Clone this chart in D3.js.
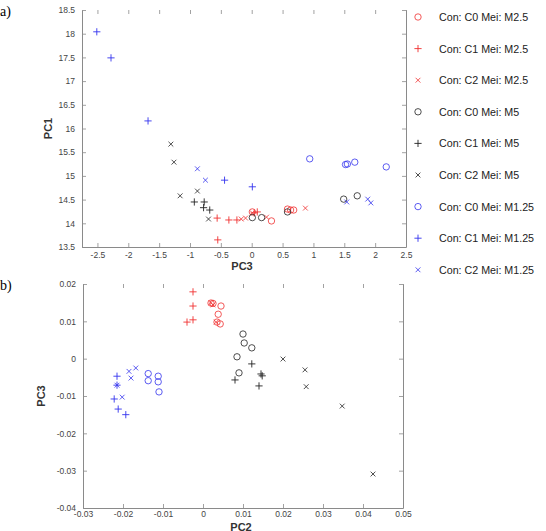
<!DOCTYPE html>
<html>
<head>
<meta charset="utf-8">
<script src="https://cdn.jsdelivr.net/npm/d3@7"></script>
<style>
  body { margin: 0; background: #fff; overflow: hidden; }
  svg { display: block; font-family: "Liberation Sans", Arial, sans-serif; }
</style>
</head>
<body>
<div id="main"></div>
<script>
const W = 546, H = 531;

// legend entries, in order
const seriesNames = [
  "Con: C0 Mei: M2.5", "Con: C1 Mei: M2.5", "Con: C2 Mei: M2.5",
  "Con: C0 Mei: M5",   "Con: C1 Mei: M5",   "Con: C2 Mei: M5",
  "Con: C0 Mei: M1.25","Con: C1 Mei: M1.25","Con: C2 Mei: M1.25"
];
const seriesColor = ["#f03030", "#f03030", "#f03030", "#222", "#222", "#222", "#3333ee", "#3333ee", "#3333ee"];
const seriesMarker = ["o", "+", "x", "o", "+", "x", "o", "+", "x"];

// panel a) : [PC3, PC1]
const a_C0_M25 = [[0.32, 14.05], [0.58, 14.30], [0.63, 14.28], [0.68, 14.28], [0.01, 14.24]];
const a_C1_M25 = [[-0.56, 14.11], [-0.37, 14.07], [-0.24, 14.07], [-0.55, 13.65], [0.09, 14.24], [0.04, 14.22]];
const a_C2_M25 = [[-0.17, 14.09], [-0.10, 14.11], [0.24, 14.13], [0.87, 14.32], [0.01, 14.22]];
const a_C0_M5  = [[0.01, 14.12], [0.16, 14.12], [0.58, 14.24], [1.71, 14.58], [1.49, 14.51]];
const a_C1_M5  = [[-0.93, 14.45], [-0.77, 14.45], [-0.78, 14.33], [-0.68, 14.28]];
const a_C2_M5  = [[-1.31, 15.67], [-1.26, 15.29], [-1.16, 14.58], [-0.88, 14.68], [-0.70, 14.09]];
const a_C0_M125 = [[0.94, 15.36], [1.52, 15.24], [1.55, 15.25], [1.67, 15.29], [2.18, 15.19]];
const a_C1_M125 = [[-2.51, 18.04], [-2.28, 17.49], [-1.68, 16.16], [-0.44, 14.91], [0.01, 14.77]];
const a_C2_M125 = [[-0.88, 15.15], [-0.75, 14.91], [1.88, 14.51], [1.93, 14.43], [1.54, 14.45]];

// panel b) : [PC2, PC3]
const b_C0_M25 = [[0.0020, 0.0149], [0.0025, 0.0148], [0.0045, 0.0141], [0.0038, 0.0119], [0.0035, 0.0098], [0.0043, 0.0093]];
const b_C1_M25 = [[-0.0025, 0.0179], [-0.0025, 0.0141], [-0.0025, 0.0104], [-0.0040, 0.0098]];
const b_C2_M25 = [[0.0025, 0.0144], [0.0033, 0.0098], [0.0020, 0.0150]];
const b_C0_M5  = [[0.0100, 0.0066], [0.0103, 0.0042], [0.0122, 0.0029], [0.0085, 0.0005], [0.0090, -0.0038]];
const b_C1_M5  = [[0.0122, -0.0014], [0.0145, -0.0041], [0.0148, -0.0046], [0.0140, -0.0073], [0.0080, -0.0057]];
const b_C2_M5  = [[0.0200, -0.0001], [0.0255, -0.0030], [0.0258, -0.0075], [0.0348, -0.0127], [0.0425, -0.0309]];
const b_C0_M125 = [[-0.0137, -0.0040], [-0.0137, -0.0059], [-0.0112, -0.0047], [-0.0112, -0.0062], [-0.0110, -0.0089]];
const b_C1_M125 = [[-0.0215, -0.0047], [-0.0215, -0.0071], [-0.0222, -0.0108], [-0.0212, -0.0135], [-0.0193, -0.0150]];
const b_C2_M125 = [[-0.0185, -0.0034], [-0.0168, -0.0025], [-0.0180, -0.0052], [-0.0202, -0.0103], [-0.0215, -0.0071]];

const aSeries = [a_C0_M25, a_C1_M25, a_C2_M25, a_C0_M5, a_C1_M5, a_C2_M5, a_C0_M125, a_C1_M125, a_C2_M125];
const bSeries = [b_C0_M25, b_C1_M25, b_C2_M25, b_C0_M5, b_C1_M5, b_C2_M5, b_C0_M125, b_C1_M125, b_C2_M125];

// axis ticks
const aXTicks = [-2.5, -2, -1.5, -1, -0.5, 0, 0.5, 1, 1.5, 2, 2.5];
const aYTicks = [13.5, 14, 14.5, 15, 15.5, 16, 16.5, 17, 17.5, 18, 18.5];
const bXTicks = [-0.03, -0.02, -0.01, 0, 0.01, 0.02, 0.03, 0.04, 0.05];
const bYTicks = [-0.04, -0.03, -0.02, -0.01, 0, 0.01, 0.02];

const svg = d3.select("#main").append("svg").attr("width", W).attr("height", H);

const fmt = d => String(Number(d.toFixed(3)));
const AXIS_COL = "#8a8a8a";
const TICK_TXT = "#444";

function drawMarker(g, type, x, y, color) {
  if (type === "o") {
    g.append("circle").attr("cx", x).attr("cy", y).attr("r", 3.2)
      .attr("fill", "none").attr("stroke", color).attr("stroke-width", 0.8);
  } else if (type === "+") {
    g.append("path").attr("d", `M${x-3.6},${y}H${x+3.6}M${x},${y-3.6}V${y+3.6}`)
      .attr("stroke", color).attr("stroke-width", 0.9);
  } else {
    g.append("path").attr("d", `M${x-2.4},${y-2.4}L${x+2.4},${y+2.4}M${x-2.4},${y+2.4}L${x+2.4},${y-2.4}`)
      .attr("stroke", color).attr("stroke-width", 0.8);
  }
}

function panel(opt) {
  const g = svg.append("g");
  const x = d3.scaleLinear().domain(opt.xDom).range([opt.left, opt.right]);
  const y = d3.scaleLinear().domain(opt.yDom).range([opt.bottom, opt.top]);

  g.append("g").attr("transform", `translate(0,${opt.bottom})`)
    .call(d3.axisBottom(x).tickValues(opt.xTicks).tickFormat(fmt).tickSize(-4).tickSizeOuter(0).tickPadding(opt.xPad));
  g.append("g").attr("transform", `translate(${opt.left},0)`)
    .call(d3.axisLeft(y).tickValues(opt.yTicks).tickFormat(fmt).tickSize(-4).tickSizeOuter(0).tickPadding(7));
  // top ticks (no line) and right border
  g.append("g").attr("transform", `translate(0,${opt.top})`)
    .call(d3.axisTop(x).tickValues(opt.xTicks).tickFormat("").tickSize(-4).tickSizeOuter(0))
    .select(".domain").remove();
  g.append("g").attr("transform", `translate(${opt.right},0)`)
    .call(d3.axisRight(y).tickValues(opt.yTicks).tickFormat("").tickSize(-4).tickSizeOuter(0));

  g.selectAll(".domain").attr("stroke", AXIS_COL);
  g.selectAll(".tick line").attr("stroke", AXIS_COL).attr("stroke-width", 0.8);
  g.selectAll(".tick text").attr("fill", TICK_TXT).style("font-size", "8.5px");

  g.append("text").attr("x", (opt.left + opt.right) / 2 - 2).attr("y", opt.bottom + opt.xLabelDy)
    .attr("text-anchor", "middle").style("font-size", "11px").style("font-weight", "bold")
    .attr("fill", "#333").text(opt.xLabel);
  g.append("text").attr("transform", `translate(${opt.left - opt.yLabelDx},${(opt.top + opt.bottom) / 2}) rotate(-90)`)
    .attr("text-anchor", "middle").style("font-size", "11px").style("font-weight", "bold")
    .attr("fill", "#333").text(opt.yLabel);

  g.append("text").attr("x", 0).attr("y", opt.top + 6)
    .style("font-family", "'Liberation Serif', 'Times New Roman', serif").style("font-size", "14px")
    .attr("fill", "#000").text(opt.tag);

  const pts = g.append("g");
  opt.series.forEach((s, i) => {
    s.forEach(d => drawMarker(pts, seriesMarker[i], x(d[0]), y(d[1]), seriesColor[i]));
  });
}

panel({
  left: 82, right: 406, top: 10, bottom: 247,
  xDom: [-2.75, 2.5], yDom: [13.5, 18.5],
  xTicks: aXTicks, yTicks: aYTicks,
  xLabel: "PC3", yLabel: "PC1", tag: "a)", series: aSeries,
  xLabelDy: 23, yLabelDx: 30, xPad: 5
});

panel({
  left: 83, right: 403, top: 284, bottom: 508,
  xDom: [-0.03, 0.05], yDom: [-0.04, 0.02],
  xTicks: bXTicks, yTicks: bYTicks,
  xLabel: "PC2", yLabel: "PC3", tag: "b)", series: bSeries,
  xLabelDy: 22.5, yLabelDx: 38, xPad: 3
});

// legend
const legend = svg.append("g");
seriesNames.forEach((name, i) => {
  const yy = 17 + i * 31.6;
  drawMarker(legend, seriesMarker[i], 418, yy, seriesColor[i]);
  legend.append("text").attr("x", 439).attr("y", yy + 4)
    .style("font-size", "10.7px").attr("fill", "#222").text(name);
});
</script>
</body>
</html>
